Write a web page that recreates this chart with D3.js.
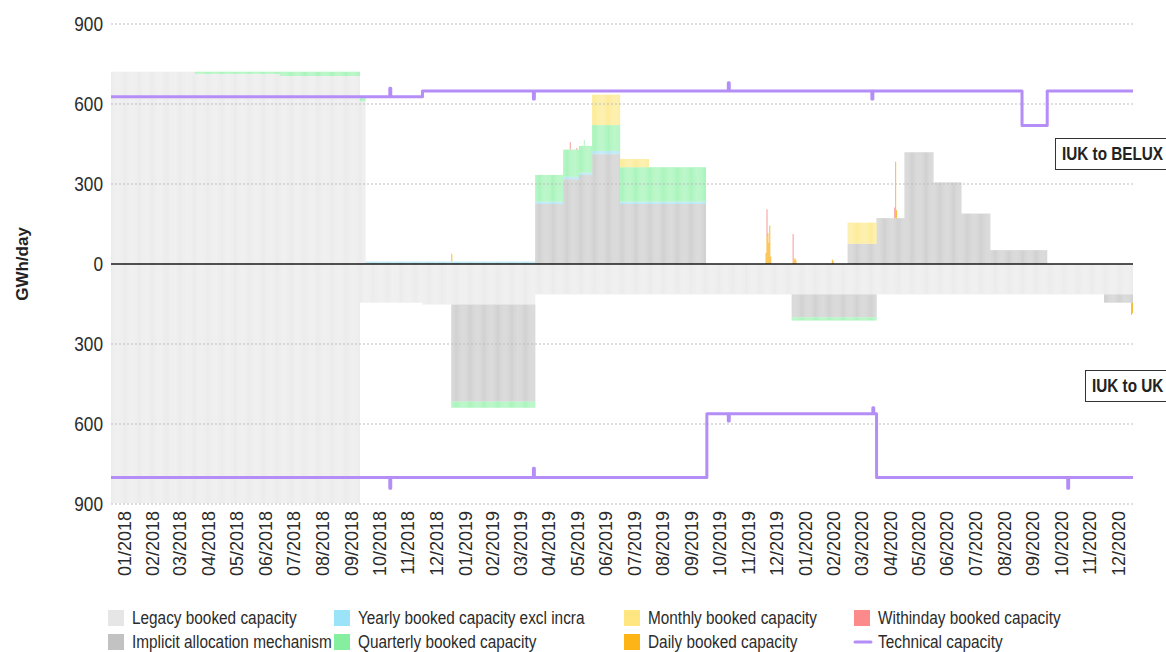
<!DOCTYPE html>
<html><head><meta charset="utf-8">
<script src="https://cdn.jsdelivr.net/npm/d3@7"></script>
<style>
html,body{margin:0;padding:0;background:#fff;}
svg{display:block;}
text{font-family:"Liberation Sans",Arial,sans-serif;}
</style></head>
<body>
<svg id="chart" width="1166" height="652"></svg>
<script>
// ---------------- DATA ----------------
const monthLabels = ["01/2018","02/2018","03/2018","04/2018","05/2018","06/2018","07/2018","08/2018","09/2018","10/2018","11/2018","12/2018",
"01/2019","02/2019","03/2019","04/2019","05/2019","06/2019","07/2019","08/2019","09/2019","10/2019","11/2019","12/2019",
"01/2020","02/2020","03/2020","04/2020","05/2020","06/2020","07/2020","08/2020","09/2020","10/2020","11/2020","12/2020"];
const yTicks = [-900,-600,-300,0,300,600,900];

// IUK to BELUX (upper side) : [start, end inclusive, GWh/day]
const legacyBelux = [["2018-01-01","2018-03-31",721],["2018-04-01","2018-06-30",713],["2018-07-01","2018-09-24",705],["2018-09-25","2018-09-30",610]];
const implicitBelux = [["2019-04-01","2019-04-30",225],["2019-05-01","2019-05-17",318],["2019-05-18","2019-05-31",334],["2019-06-01","2019-06-30",412],["2019-07-01","2019-09-30",225],
  ["2020-03-01","2020-03-31",76],["2020-04-01","2020-04-30",172],["2020-05-01","2020-05-31",419],["2020-06-01","2020-06-30",306],["2020-07-01","2020-07-31",189],["2020-08-01","2020-09-30",52]];
const yearlyBelux = [["2018-10-01","2019-05-31",9],["2019-06-01","2019-06-30",12],["2019-07-01","2019-09-30",9]];
const quarterlyBelux = [["2018-04-01","2018-06-30",8],["2018-07-01","2018-09-24",16],["2018-09-25","2018-09-30",15],["2019-04-01","2019-04-30",100],["2019-05-01","2019-05-17",102],
  ["2019-05-18","2019-05-31",100],["2019-05-23","2019-05-23",122],["2019-06-01","2019-06-30",97],["2019-07-01","2019-09-30",129]];
const monthlyBelux = [["2019-06-01","2019-06-30",114],["2019-07-01","2019-07-31",31],["2020-03-01","2020-03-31",79]];
const dailyBelux = [["2019-01-01",29],["2019-12-04",42],["2019-12-05",105],["2019-12-06",116],["2019-12-07",80],["2019-12-08",144],["2019-12-09",28],
  ["2020-01-02",12],["2020-01-03",16],["2020-01-04",22],["2020-01-05",14],["2020-02-13",17],["2020-02-14",10],["2020-04-21",212],["2020-04-22",30]];
const withindayBelux = [["2019-05-08",28],["2019-05-15",6],["2019-12-05",100],["2020-01-02",100],["2020-04-20",40]];
const technicalBelux = [["2018-01-01","2018-11-30",627],["2018-12-01","2020-09-03",649],["2020-09-04","2020-09-30",519],["2020-10-01","2020-12-31",649]];
const technicalBeluxBlips = [["2018-10-27",659],["2019-03-30",619],["2019-10-25",680],["2020-03-27",619]];

// IUK to UK (lower side)
const legacyUk = [["2018-01-01","2018-09-24",897],["2018-09-25","2018-11-30",145],["2018-12-01","2019-03-31",152],["2019-04-01","2020-12-31",114]];
const implicitUk = [["2019-01-01","2019-03-31",364],["2020-01-01","2020-03-31",86],["2020-12-01","2020-12-31",31]];
const yearlyUk = [];
const quarterlyUk = [["2019-01-01","2019-03-31",23],["2020-01-01","2020-03-31",12]];
const monthlyUk = [];
const dailyUk = [["2020-12-30",46],["2020-12-31",40]];
const withindayUk = [];
const technicalUk = [["2018-01-01","2019-10-01",801],["2019-10-02","2020-03-31",562],["2020-04-01","2020-12-31",801]];
const technicalUkBlips = [["2018-10-27",841],["2019-03-30",766],["2019-10-25",589],["2020-03-28",539],["2020-10-23",841]];

const seriesNames = ["Legacy booked capacity","Implicit allocation mechanism","Yearly booked capacity excl incra","Quarterly booked capacity","Monthly booked capacity","Daily booked capacity","Withinday booked capacity"];

// ---------------- STYLE ----------------
const barColors = ["#ebebeb","#cfcfcf","#b3e6f4","#a6f4b9","#fdeb96","#fbb52a","#f79393"];
const legendColors = ["#e6e6e6","#c2c2c2","#9be3f8","#86ee9f","#ffe680","#fcb416","#fc8a8a"];
const techColor = "#b48df6";

// ---------------- BUILD ----------------
const parse = d3.timeParse("%Y-%m-%d");
const fmt = d3.timeFormat("%Y-%m-%d");
const t0 = parse("2018-01-01"), t1 = parse("2021-01-01");
const days = d3.timeDay.range(t0, t1);
const x = d3.scaleTime().domain([t0, t1]).range([111, 1133]);
const y = d3.scaleLinear().domain([-900, 900]).range([504, 24]);

function fromSegments(segs){
  const m = new Map();
  segs.forEach(([a,b,v])=>{ d3.timeDay.range(parse(a), d3.timeDay.offset(parse(b),1)).forEach(d=>m.set(fmt(d), v)); });
  return m;
}
function fromPoints(pts){ const m = new Map(); pts.forEach(([a,v])=>m.set(a,v)); return m; }

const beluxSeries = [fromSegments(legacyBelux),fromSegments(implicitBelux),fromSegments(yearlyBelux),fromSegments(quarterlyBelux),fromSegments(monthlyBelux),fromPoints(dailyBelux),fromPoints(withindayBelux)];
const ukSeries = [fromSegments(legacyUk),fromSegments(implicitUk),fromSegments(yearlyUk),fromSegments(quarterlyUk),fromSegments(monthlyUk),fromPoints(dailyUk),fromPoints(withindayUk)];

const svg = d3.select("#chart");
const gBars = svg.append("g");

function drawSide(series, sign){
  const cum = new Map(days.map(d=>[fmt(d),0]));
  series.forEach((m,i)=>{
    const recs = [];
    days.forEach(d=>{
      const k = fmt(d), v = m.get(k) || 0;
      if (v>0){ const c = cum.get(k); recs.push({d, lo:c, hi:c+v}); cum.set(k, c+v); }
    });
    gBars.append("g").selectAll("rect").data(recs).join("rect")
      .attr("x", r=>x(r.d))
      .attr("width", r=>x(d3.timeDay.offset(r.d,1))-x(r.d))
      .attr("y", r=> sign>0 ? y(r.hi) : y(-r.lo))
      .attr("height", r=> Math.abs(y(r.hi)-y(r.lo)))
      .attr("fill", barColors[i]);
  });
}
drawSide(beluxSeries, 1);
drawSide(ukSeries, -1);

// gridlines
svg.append("g").selectAll("line").data(yTicks.filter(t=>t!==0)).join("line")
  .attr("x1",111).attr("x2",1133).attr("y1",d=>y(d)).attr("y2",d=>y(d))
  .attr("stroke","#bdbdbd").attr("stroke-width",1).attr("stroke-dasharray","2,2");

// technical capacity lines
function techLine(segs, blips, sign){
  const m = fromSegments(segs); blips.forEach(([a,v])=>m.set(a,v));
  const pts = days.map(d=>[x(d), y(sign*m.get(fmt(d)))]);
  pts.push([x(t1), pts[pts.length-1][1]]);
  svg.append("path").attr("d", d3.line().curve(d3.curveStepAfter)(pts))
    .attr("fill","none").attr("stroke",techColor).attr("stroke-width",3).attr("stroke-linejoin","round");
}
techLine(technicalBelux, technicalBeluxBlips, 1);
techLine(technicalUk, technicalUkBlips, -1);

// zero line
svg.append("line").attr("x1",111).attr("x2",1133).attr("y1",y(0)).attr("y2",y(0)).attr("stroke","#1a1a1a").attr("stroke-width",1.6);

// y axis (condensed labels)
svg.append("g").selectAll("text").data(yTicks).join("text")
  .attr("transform",d=>`translate(103,${y(d)}) scale(0.82,1)`)
  .attr("text-anchor","end").attr("dominant-baseline","central")
  .attr("font-size",21).attr("fill","#2b2b2b").text(d=>Math.abs(d));

svg.append("text").attr("transform","translate(28,264) rotate(-90)")
  .attr("text-anchor","middle").attr("font-size",17).attr("font-weight","bold").attr("fill","#222").text("GWh/day");

// x labels
const monthStarts = d3.timeMonth.range(t0, t1);
svg.append("g").selectAll("text").data(monthStarts).join("text")
  .attr("transform",(d,i)=>`translate(${(x(d)+x(d3.timeMonth.offset(d,1)))/2},511) rotate(-90)`)
  .attr("text-anchor","end").attr("dominant-baseline","central")
  .attr("font-size",18).attr("fill","#2b2b2b").text((d,i)=>monthLabels[i]);

// direction labels
function boxLabel(txt, bx, by, h, tx, ty){
  svg.append("rect").attr("x",bx+0.5).attr("y",by+0.5).attr("width",140).attr("height",h).attr("fill","#fff").attr("stroke","#333").attr("stroke-width",1);
  svg.append("text").attr("transform",`translate(${tx},${ty}) scale(0.85,1)`).attr("font-size",18).attr("font-weight","bold").attr("fill","#222").text(txt);
}
boxLabel("IUK to BELUX", 1055, 138, 31, 1062, 160);
boxLabel("IUK to UK", 1085, 370, 31, 1092, 392);

// legend
const legendItems = [
  {name:seriesNames[0], c:legendColors[0], col:0,row:0},
  {name:seriesNames[1], c:legendColors[1], col:0,row:1},
  {name:seriesNames[2], c:legendColors[2], col:1,row:0},
  {name:seriesNames[3], c:legendColors[3], col:1,row:1},
  {name:seriesNames[4], c:legendColors[4], col:2,row:0},
  {name:seriesNames[5], c:legendColors[5], col:2,row:1},
  {name:seriesNames[6], c:legendColors[6], col:3,row:0},
  {name:"Technical capacity", c:techColor, col:3,row:1, line:true}
];
const colX = [108, 334, 624, 854];
const rowY = [618, 642];
const lg = svg.append("g").selectAll("g").data(legendItems).join("g")
  .attr("transform",d=>`translate(${colX[d.col]},${rowY[d.row]})`);
lg.filter(d=>!d.line).append("rect").attr("x",0).attr("y",-8).attr("width",16).attr("height",16).attr("fill",d=>d.c);
lg.filter(d=>d.line).append("line").attr("x1",1).attr("x2",17).attr("y1",0).attr("y2",0).attr("stroke",d=>d.c).attr("stroke-width",3).attr("stroke-linecap","round");
lg.append("text").attr("transform","translate(24,0) scale(0.83,1)").attr("dominant-baseline","central")
  .attr("font-size",18.5).attr("fill","#2b2b2b").text(d=>d.name);
</script>
</body></html>
